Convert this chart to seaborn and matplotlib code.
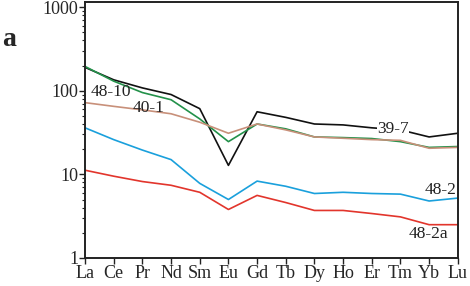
import pandas as pd
import numpy as np
import matplotlib
matplotlib.use("Agg")
import matplotlib.pyplot as plt
from matplotlib.ticker import LogLocator, NullFormatter
import seaborn as sns

# REE elements (x axis)
elements = ["La", "Ce", "Pr", "Nd", "Sm", "Eu", "Gd", "Tb", "Dy", "Ho", "Er", "Tm", "Yb", "Lu"]

# chondrite-normalised values
s39_7 = [190, 135, 108, 90, 61, 12.8, 56, 48, 40, 39, 36, 34, 28, 31]
s48_10 = [195, 130, 95, 78, 46, 24.6, 40, 35, 28, 27.5, 26.8, 24.6, 21, 21.5]
s40_1 = [72, 65, 59, 53, 42, 31, 40, 34, 28, 27, 26, 25.5, 20.5, 21]
s48_2 = [36, 26, 19.5, 15, 7.8, 5.0, 8.3, 7.2, 5.9, 6.1, 5.9, 5.8, 4.8, 5.2]
s48_2a = [11.2, 9.5, 8.2, 7.4, 6.1, 3.8, 5.6, 4.6, 3.7, 3.7, 3.4, 3.1, 2.5, 2.5]

samples = ["39-7", "48-10", "40-1", "48-2", "48-2a"]
colors = ["#111111", "#23914a", "#c8907a", "#1aa0dc", "#e2352c"]

df = pd.DataFrame({
    "el": elements * 5,
    "pos": list(range(len(elements))) * 5,
    "val": s39_7 + s48_10 + s40_1 + s48_2 + s48_2a,
    "sample": np.repeat(samples, len(elements)),
})

sns.set_theme(style="ticks")
plt.rcParams["font.family"] = ["Liberation Serif", "DejaVu Serif"]

fig = plt.figure(figsize=(4.7, 2.86), dpi=100)
ax = fig.add_axes([0.181, 0.098, 0.793, 0.895])

sns.lineplot(data=df, x="pos", y="val", hue="sample", palette=colors,
             hue_order=samples, linewidth=1.2, legend=False, ax=ax)

ax.set_yscale("log")
ax.set_ylim(1, 1150)
ax.set_xlim(0, len(elements) - 1)
ax.set_xticks(range(len(elements)))
ax.set_xticklabels(elements)
ax.set_yticks([1, 10, 100, 1000])
ax.set_yticklabels(["1", "10", "100", "1000"])
ax.yaxis.set_minor_locator(LogLocator(base=10, subs=np.arange(2, 10)))
ax.yaxis.set_minor_formatter(NullFormatter())
ax.set_xlabel("")
ax.set_ylabel("")
ax.tick_params(axis="both", labelsize=13, color="#222222", width=1, length=4, pad=1)
ax.tick_params(axis="y", which="minor", length=2.5, width=0.8, color="#222222")
for s in ax.spines.values():
    s.set_color("#222222")
    s.set_linewidth(1.4)

# sample labels
lab = dict(fontsize=12.5, va="center", color="#222222")
ax.text(0.2, 97, "48-10", ha="left", **lab)
ax.text(1.67, 62, "40-1", ha="left", **lab)
ax.text(10.18, 35, "39-7", ha="left",
        bbox=dict(facecolor="white", edgecolor="none", pad=0.3), **lab)
ax.text(12.95, 6.45, "48-2", ha="right", **lab)
ax.text(11.3, 1.93, "48-2a", ha="left", **lab)

fig.text(0.005, 0.84, "a", fontsize=20, fontweight="bold")

fig.savefig("out.png", dpi=100)
